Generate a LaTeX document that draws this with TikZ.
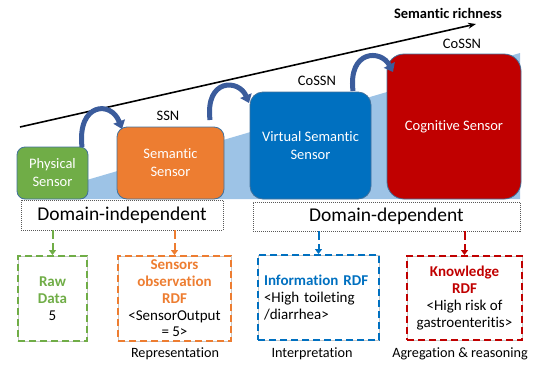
\documentclass[tikz,border=0pt]{standalone}
\usepackage{fontspec}
\setmainfont[Ligatures=NoCommon]{Carlito}
\usetikzlibrary{arrows.meta}
\definecolor{cgreen}{HTML}{70AD47}
\definecolor{corange}{HTML}{ED7D31}
\definecolor{cblue}{HTML}{0070C0}
\definecolor{cred}{HTML}{C00000}
\definecolor{clight}{HTML}{9DC3E6}
\definecolor{cborder}{HTML}{41719C}
\definecolor{carrow}{HTML}{3B5C9C}
\begin{document}
\begin{tikzpicture}[x=1pt,y=-1pt,
  sensor/.style={draw=cborder, line width=0.8pt, text=white, align=center,
    font=\fontsize{14.5}{18}\selectfont, inner sep=0pt},
  dombox/.style={draw=black!65, dash pattern=on 1pt off 1pt, line width=0.6pt,
    font=\fontsize{19.5}{22}\selectfont, inner sep=0pt},
  outbox/.style={line width=2pt, dash pattern=on 7pt off 4pt, inner sep=0pt,
    align=center, font=\fontsize{15}{16.7}\selectfont,
    preaction={draw=black!22, line width=0.6pt, solid}},
  conn/.style={line width=2pt, dash pattern=on 9pt off 4pt,
    -{Triangle[width=7pt,length=5pt]}},
  curv/.style={draw=carrow, line width=5pt, -{Triangle[width=12pt,length=8pt]}},
  lbl/.style={font=\fontsize{14.5}{17}\selectfont, anchor=base, inner sep=0pt},
  captxt/.style={font=\fontsize{14.2}{16}\selectfont, anchor=base, inner sep=0pt}
]
\useasboundingbox (0,0) rectangle (538,367);

% light blue wedge
\fill[clight] (22,199) -- (520,53) -- (520,199) -- cycle;

% semantic richness axis
\coordinate (ls) at (20,127);
\coordinate (le) at (476,24);
\draw[line width=1.6pt, -{Stealth[length=8pt,width=6pt]}] (ls) -- (le);
\node[lbl, font=\fontsize{14.5}{17}\selectfont\bfseries] (rich) at (448,18) {Semantic richness};

% sensors
\node[sensor, fill=cgreen, minimum width=71pt, minimum height=52pt, rounded corners=8pt]
  (phys) at (52.5,173) {Physical\\Sensor};
\node[sensor, fill=corange, minimum width=107pt, minimum height=72pt, rounded corners=10pt]
  (sem) at (170.5,163) {Semantic\\Sensor};
\node[sensor, fill=cblue, minimum width=121pt, minimum height=107pt, rounded corners=13pt]
  (virt) at (310.5,145.5) {Virtual Semantic\\Sensor};
\node[sensor, fill=cred, minimum width=134pt, minimum height=145pt, rounded corners=17pt]
  (cog) at (454,126.5) {Cognitive Sensor};

% labels above
\node[lbl] (ssn) at (168,120) {SSN};
\node[lbl] (cossn1) at (317,85) {CoSSN};
\node[lbl] (cossn2) at (462,48) {CoSSN};

% curved arrows
\coordinate (a1s) at (82,147);
\coordinate (a1e) at (122,129);
\coordinate (a2s) at (210,120);
\coordinate (a2e) at (249,103);
\coordinate (a3s) at (353,91);
\coordinate (a3e) at (393,72);
\draw[curv] (a1s) .. controls (77,103) and (111,100) .. (a1e);
\draw[curv] (a2s) .. controls (205,78) and (239,79) .. (a2e);
\draw[curv] (a3s) .. controls (348,50) and (381,49) .. (a3e);

% domain boxes
\node[dombox, minimum width=202pt, minimum height=30pt] (dind) at (122,215) {Domain-independent};
\node[dombox, minimum width=267pt, minimum height=29pt] (ddep) at (386.5,216.5) {Domain-dependent};

% output boxes
\node[outbox, draw=cgreen, minimum width=69pt, minimum height=85pt] (gbox) at (52.5,298.5)
  {\textcolor{cgreen}{\bfseries Raw}\\\textcolor{cgreen}{\bfseries Data}\\5};
\node[outbox, draw=corange, minimum width=113pt, minimum height=85pt] (obox) at (174.5,298.5)
  {\textcolor{corange}{\bfseries Sensors}\\\textcolor{corange}{\bfseries observation}\\\textcolor{corange}{\bfseries RDF}\\{<}SensorOutput\\= 5{>}};
\node[outbox, draw=cblue, minimum width=121pt, minimum height=85pt, align=left,
  text width=109pt, inner xsep=6pt] (bbox) at (318.5,297.5)
  {\textcolor{cblue}{\bfseries Information RDF}\\{<}High toileting\\/diarrhea{>}};
\node[outbox, draw=cred, minimum width=115pt, minimum height=84pt] (rbox) at (464.5,298)
  {\textcolor{cred}{\bfseries Knowledge}\\\textcolor{cred}{\bfseries RDF}\\{<}High risk of\\gastroenteritis{>}};

% connectors
\draw[conn, cgreen] (dind.south -| gbox.north) -- (gbox.north);
\draw[conn, corange] (dind.south -| obox.north) -- (obox.north);
\draw[conn, cblue] (ddep.south -| bbox.north) -- (bbox.north);
\draw[conn, cred] (ddep.south -| rbox.north) -- (rbox.north);

% captions
\node[captxt] (c1) at (175,357) {Representation};
\node[captxt] (c2) at (312,357) {Interpretation};
\node[captxt] (c3) at (460,357) {Agregation \& reasoning};
\end{tikzpicture}
\end{document}
